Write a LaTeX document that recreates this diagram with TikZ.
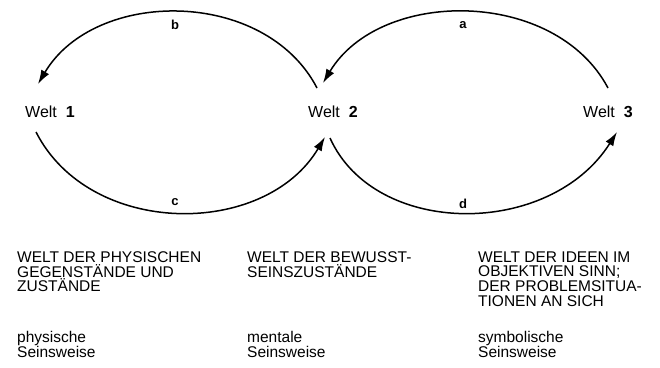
\documentclass[tikz,border=0pt]{standalone}
\usepackage{fontspec}
\setmainfont{Liberation Sans}
\usetikzlibrary{arrows.meta}
\begin{document}
\begin{tikzpicture}[x=1pt,y=-1pt,
  welt/.style={inner sep=0pt,anchor=base west,font=\fontsize{16}{18}\selectfont},
  lbl/.style={inner sep=0pt,font=\fontsize{13}{15}\selectfont\bfseries},
  caption/.style={inner sep=0pt,anchor=north west,align=left,font=\fontsize{15.5}{14.6}\selectfont},
  arc/.style={line width=1.5pt,-{Latex[length=14pt,width=9pt]}}]
\useasboundingbox (0,0) rectangle (660,367);
\node[welt] (w1) at (25,117) {Welt\hspace{9pt}\textbf{1}};
\node[welt] (w2) at (308,117) {Welt\hspace{9pt}\textbf{2}};
\node[welt] (w3) at (583,117) {Welt\hspace{9pt}\textbf{3}};
% arcs
\draw[arc] ([shift={(9,-29)}]w2.base west) .. controls (265,-12) and (95,-12) .. ([shift={(13,-33)}]w1.base west);
\draw[arc] ([shift={(25,-29)}]w3.base west) .. controls (555,-12) and (380,-12) .. ([shift={(15,-34)}]w2.base west);
\draw[arc] ([shift={(11,15)}]w1.base west) .. controls (90,238) and (265,238) .. ([shift={(17,20)}]w2.base west);
\draw[arc] ([shift={(22,21)}]w2.base west) .. controls (375,238) and (550,238) .. ([shift={(34,15)}]w3.base west);
\node[lbl] (lb) at (175,25) {b};
\node[lbl] (la) at (463,25) {a};
\node[lbl] (lc) at (175,202) {c};
\node[lbl] (ld) at (463,204) {d};
% captions
\node[caption] (t1) at (17,251.5) {WELT DER PHYSISCHEN\\GEGENSTÄNDE UND\\ZUSTÄNDE};
\node[caption] (t2) at (247,251.5) {WELT DER BEWUSST-\\SEINSZUSTÄNDE};
\node[caption] (t3) at (478,251.5) {WELT DER IDEEN IM\\OBJEKTIVEN SINN;\\DER PROBLEMSITUA-\\TIONEN AN SICH};
\node[caption] (s1) at (17,331) {physische\\Seinsweise};
\node[caption] (s2) at (247,331) {mentale\\Seinsweise};
\node[caption] (s3) at (478,331) {symbolische\\Seinsweise};
\end{tikzpicture}
\end{document}
